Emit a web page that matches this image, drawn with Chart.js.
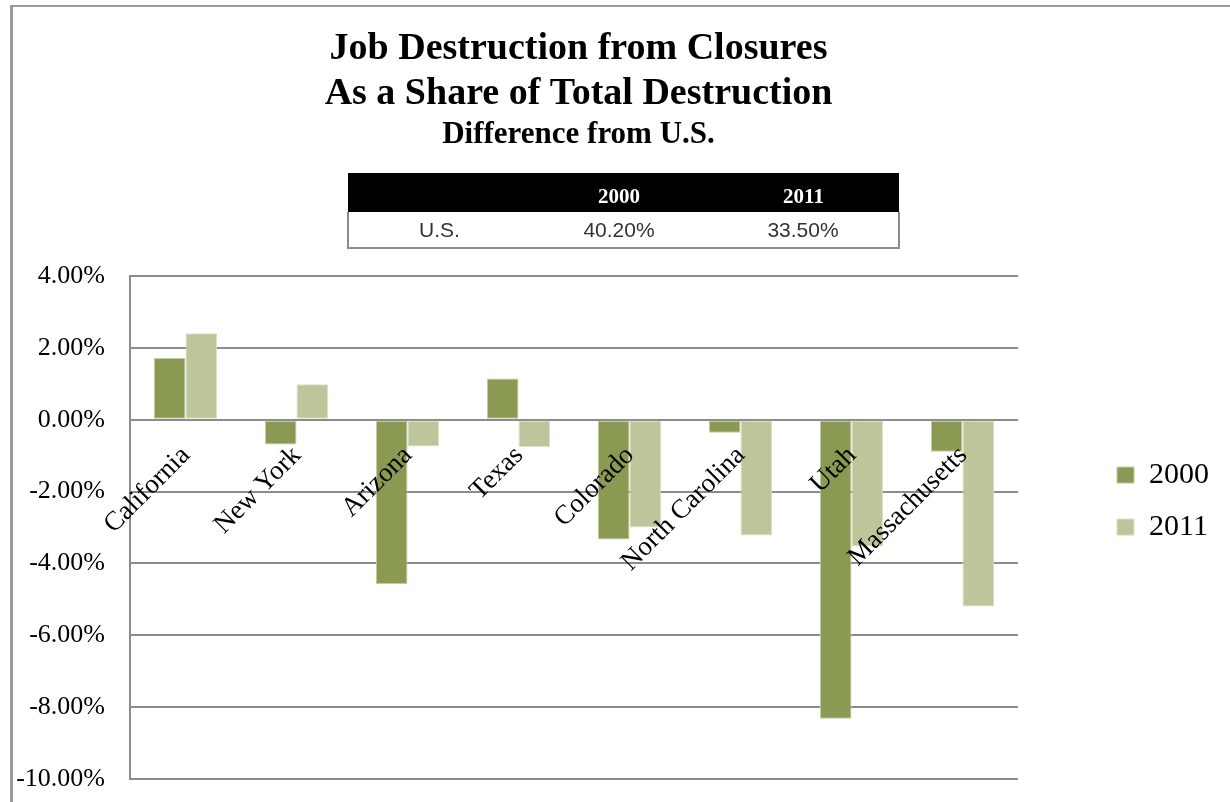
<!DOCTYPE html>
<html>
<head>
<meta charset="utf-8">
<title>Job Destruction from Closures</title>
<script src="https://cdn.jsdelivr.net/npm/chart.js@4.4.1/dist/chart.umd.min.js"></script>
<style>
  html, body { margin: 0; padding: 0; background: #fff; }
  #wrap { position: relative; width: 1230px; height: 802px; overflow: hidden; }
  #frame {
    position: absolute; left: 10px; top: 5px; width: 1240px; height: 820px;
    border-top: 2px solid #9a9a9a; border-left: 3px solid #9a9a9a;
  }
  #chart { position: absolute; left: 0; top: 0; }
  #usTable {
    position: absolute; left: 347px; top: 173px; width: 551px;
    border-collapse: collapse; table-layout: fixed;
  }
  #usTable th {
    background: #000; color: #fff; height: 36px; padding: 0 0 3px 0;
    font: bold 21px "Liberation Serif", serif; text-align: center; vertical-align: bottom;
  }
  #usTable td {
    height: 35px; padding: 0; text-align: center; color: #333;
    font: 21px "Liberation Sans", sans-serif;
    border-bottom: 2px solid #8a8a8a;
  }
  #usTable td:first-child { border-left: 2px solid #8a8a8a; }
  #usTable td:last-child { border-right: 2px solid #8a8a8a; }
</style>
</head>
<body>
<div id="wrap">
  <div id="frame"></div>
  <canvas id="chart" width="1230" height="802"></canvas>
  <table id="usTable">
    <colgroup><col style="width:182px"><col style="width:178px"><col style="width:191px"></colgroup>
    <thead><tr id="usHead"><th></th></tr></thead>
    <tbody><tr id="usRow"></tr></tbody>
  </table>
</div>
<script>
// difference from the U.S. share, in percentage points
var states = ["California", "New York", "Arizona", "Texas", "Colorado", "North Carolina", "Utah", "Massachusetts"];
var diff2000 = [1.72, -0.69, -4.57, 1.15, -3.33, -0.36, -8.32, -0.89];
var diff2011 = [2.41, 0.99, -0.74, -0.76, -3.0, -3.22, -3.53, -5.2];
var seriesNames = ["2000", "2011"];
var yMin = -10, yMax = 4, yStep = 2;

// U.S. reference values shown in the small table
var usLabel = "U.S.";
var usShare = ["40.20%", "33.50%"];

var serif = "'Liberation Serif', 'Times New Roman', serif";

// fill the table
var head = document.getElementById("usHead");
var row = document.getElementById("usRow");
var td = document.createElement("td");
td.textContent = usLabel;
row.appendChild(td);
seriesNames.forEach(function (name, i) {
    var th = document.createElement("th");
    th.textContent = name;
    head.appendChild(th);
    var cell = document.createElement("td");
    cell.textContent = usShare[i];
    row.appendChild(cell);
});

// state names sit just under the zero line, slanted
var stateLabels = {
    id: "stateLabels",
    afterDatasetsDraw: function (chart) {
        var ctx = chart.ctx;
        var x = chart.scales.x, y = chart.scales.y;
        var y0 = y.getPixelForValue(0);
        ctx.save();
        ctx.font = "27px " + serif;
        ctx.fillStyle = "#000";
        ctx.textAlign = "right";
        ctx.textBaseline = "top";
        states.forEach(function (name, i) {
            ctx.save();
            ctx.translate(x.getPixelForValue(i) - 9, y0 + 22);
            ctx.rotate(-Math.PI / 4);
            ctx.fillText(name, 0, 0);
            ctx.restore();
        });
        ctx.restore();
    }
};

// move the legend off the plot and a bit higher
var legendSpot = {
    id: "legendSpot",
    afterLayout: function (chart) {
        var lg = chart.legend;
        var area = chart.chartArea;
        var w = lg.width;
        lg.left = area.right + 77;
        lg.right = lg.left + w;
        lg.top = area.top;
        lg.bottom = area.bottom - 53;
    }
};

var ctx = document.getElementById("chart").getContext("2d");
var chart = new Chart(ctx, {
    type: "bar",
    data: {
        labels: states,
        datasets: [{
            label: seriesNames[0],
            data: diff2000,
            backgroundColor: "#8b9a52",
            borderColor: "#c3cba3",
            borderWidth: 1,
            borderSkipped: false
        }, {
            label: seriesNames[1],
            data: diff2011,
            backgroundColor: "#bcc69a",
            borderColor: "#d9dfc4",
            borderWidth: 1,
            borderSkipped: false
        }]
    },
    options: {
        responsive: false,
        animation: false,
        devicePixelRatio: 1,
        layout: { padding: { left: 15, right: 88, top: 0, bottom: 23 } },
        categoryPercentage: 0.57,
        barPercentage: 1.0,
        scales: {
            x: { display: false },
            y: {
                min: yMin,
                max: yMax,
                ticks: {
                    stepSize: yStep,
                    padding: 25,
                    color: "#000",
                    font: { family: serif, size: 26 },
                    callback: function (v) { return v.toFixed(2) + "%"; }
                },
                grid: { color: "#8c8c8c", lineWidth: 2, drawTicks: false },
                border: { display: true, color: "#8c8c8c", width: 2 },
                afterFit: function (scale) {
                    scale.width = 115;
                    // the tick padding is horizontal only here
                    scale.paddingTop = 0;
                    scale.paddingBottom = 0;
                }
            }
        },
        plugins: {
            title: {
                display: true,
                text: ["Job Destruction from Closures", "As a Share of Total Destruction"],
                color: "#000",
                font: { family: serif, size: 38, weight: "bold", lineHeight: 1.17 },
                padding: { top: 27, bottom: 0 }
            },
            subtitle: {
                display: true,
                text: "Difference from U.S.",
                color: "#000",
                font: { family: serif, size: 31, weight: "bold", lineHeight: 1.2 },
                padding: { top: 0, bottom: 123 }
            },
            legend: {
                position: "right",
                labels: {
                    boxWidth: 17,
                    boxHeight: 16,
                    padding: 22,
                    color: "#000",
                    font: { family: serif, size: 30 }
                }
            },
            tooltip: { enabled: false }
        }
    },
    plugins: [stateLabels, legendSpot]
});
</script>
</body>
</html>
